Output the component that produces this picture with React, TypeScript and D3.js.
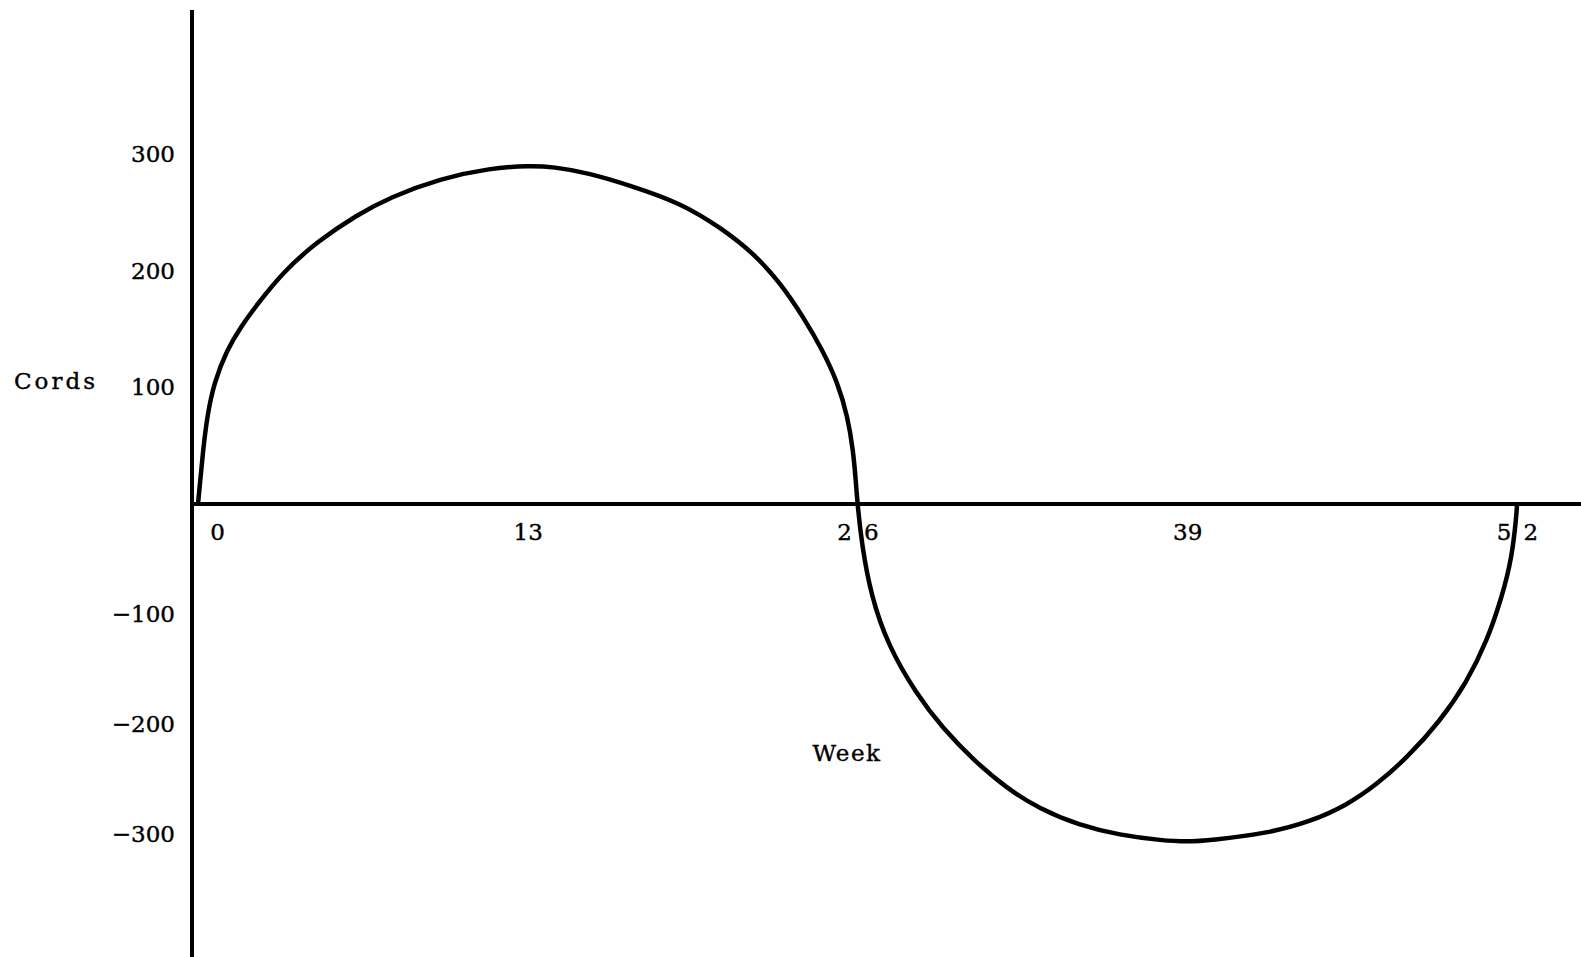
import React, { useEffect, useRef } from "react"
import * as d3 from "d3"

// week readings (fractional where the curve is steep) and cords at that week
const weeks = [0, 0.08, 0.2, 0.36, 0.63, 1.14, 1.66, 2.33, 3.36, 4.7, 6.28, 7.58, 9.55, 11.53, 13.1, 14, 15.36, 17.05, 19.03, 20.6, 21.9,
  22.98, 23.87, 24.62, 25.22, 25.61, 25.83, 25.94, 26,
  26.17, 26.53, 27.19, 28.3, 29.36, 30.63, 31.86, 33.16, 34.74, 36.32, 38.06, 38.97,
  39.87, 42.24, 43.82, 45.28, 46.47, 47.65, 48.95, 50.02, 50.81, 51.4, 51.8, 51.98, 52]
const cords = [0, 18, 46, 75, 104, 132, 151, 171, 199, 225, 248, 263, 279, 288, 290, 289, 284, 273, 258, 237, 215,
  189, 160, 132, 104, 75, 46, 18, 0,
  -37, -83, -128, -172, -204, -234, -258, -277, -292, -301, -306, -307,
  -306, -299, -289, -274, -255, -231, -198, -162, -125, -85, -49, -10, 0]

const weekTicks = [0, 13, 26, 39, 52]
const cordTicks = [300, 200, 100, -100, -200, -300]

const W = 1581
const H = 957
const FONT = "DejaVu Serif, serif"

export default function App() {
  const ref = useRef<SVGSVGElement>(null)

  useEffect(() => {
    const svg = d3.select(ref.current)
    svg.selectAll("*").remove()

    const axisX = 192 // where the vertical axis is drawn
    const x = d3.scaleLinear().domain([0, 52]).range([198, 1517])
    const y = d3.scaleLinear().domain([-300, 0, 300]).range([834, 504, 154])

    // axis lines
    svg.append("line")
      .attr("x1", axisX).attr("x2", axisX)
      .attr("y1", 10).attr("y2", H)
      .attr("stroke", "#000").attr("stroke-width", 4)
    svg.append("line")
      .attr("x1", axisX).attr("x2", W)
      .attr("y1", y(0)).attr("y2", y(0))
      .attr("stroke", "#000").attr("stroke-width", 4)

    // y tick labels
    const gy = svg.append("g")
      .attr("transform", `translate(${axisX},0)`)
      .call(d3.axisLeft(y).tickValues(cordTicks).tickSize(0).tickPadding(17).tickFormat(d3.format("d")))
    gy.select(".domain").remove()
    gy.selectAll("text")
      .attr("font-family", FONT)
      .attr("font-size", 23)
      .attr("fill", "#000")
      .attr("stroke", "#000").attr("stroke-width", 0.4)

    // x tick labels
    const gx = svg.append("g")
      .attr("transform", `translate(0,${y(0)})`)
      .call(d3.axisBottom(x).tickValues(weekTicks).tickSize(0).tickPadding(20).tickFormat(d3.format("d")))
    gx.select(".domain").remove()
    gx.selectAll("text")
      .attr("font-family", FONT)
      .attr("font-size", 23)
      .attr("fill", "#000")
      .attr("stroke", "#000").attr("stroke-width", 0.4)
      // the curve runs through 26 and 52, the digits are set apart
      .attr("letter-spacing", (d: any) => (d === 26 || d === 52 ? 12 : 0))
      .attr("dx", (d: any) => (d === 0 ? 19 : d === 26 || d === 52 ? 6 : 0))

    // axis titles
    svg.append("text")
      .attr("x", 14).attr("y", 389)
      .attr("font-family", FONT).attr("font-size", 23)
      .attr("letter-spacing", 3)
      .attr("stroke", "#000").attr("stroke-width", 0.4)
      .text("Cords")
    svg.append("text")
      .attr("x", 847).attr("y", 761)
      .attr("text-anchor", "middle")
      .attr("font-family", FONT).attr("font-size", 23)
      .attr("letter-spacing", 1.5)
      .attr("stroke", "#000").attr("stroke-width", 0.4)
      .text("Week")

    const line = d3.line<number>()
      .x((d, i) => x(weeks[i]))
      .y(d => y(d))
      .curve(d3.curveBasis)

    svg.append("path")
      .datum(cords)
      .attr("fill", "none")
      .attr("stroke", "#000")
      .attr("stroke-width", 4.5)
      .attr("stroke-linejoin", "round")
      .attr("d", line)
  }, [])

  return (
    <svg ref={ref} width={W} height={H}
      style={{ position: "absolute", left: 0, top: 0, display: "block", background: "#fff" }} />
  )
}
